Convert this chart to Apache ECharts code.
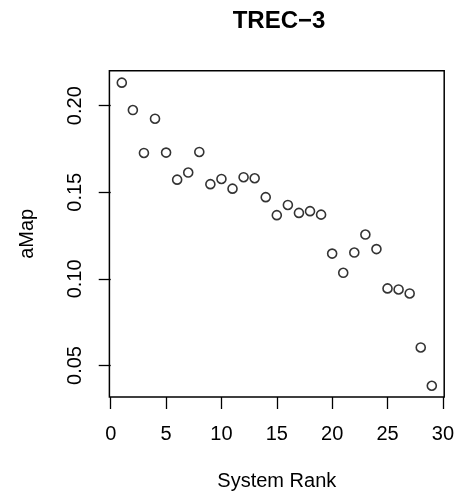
<!DOCTYPE html>
<html>
<head>
<meta charset="utf-8">
<title>TREC-3</title>
<script src="https://cdn.jsdelivr.net/npm/echarts@6/dist/echarts.min.js"></script>
<style>
  html, body { margin: 0; padding: 0; background: #fff; }
  #chart { width: 457px; height: 496px; }
</style>
</head>
<body>
<div id="chart"></div>
<script>
// system rank vs aMap
const ranks = [1, 2, 3, 4, 5, 6, 7, 8, 9, 10, 11, 12, 13, 14, 15, 16, 17, 18, 19, 20,
  21, 22, 23, 24, 25, 26, 27, 28, 29];
const amap = [0.2133, 0.1975, 0.1727, 0.1925, 0.1729, 0.1573, 0.1614, 0.1733, 0.1547, 0.1577,
  0.1521, 0.1587, 0.1581, 0.1472, 0.1368, 0.1427, 0.1381, 0.1391, 0.1371, 0.1146,
  0.1035, 0.1152, 0.1256, 0.1172, 0.0945, 0.0939, 0.0916, 0.0604, 0.0383];
const xTicks = [0, 5, 10, 15, 20, 25, 30];
const yTicks = [0.05, 0.10, 0.15, 0.20];

const font = "'Liberation Sans', Arial, Helvetica, sans-serif";
const points = ranks.map((r, i) => [r, amap[i]]);

const chart = echarts.init(document.getElementById('chart'));
chart.setOption({
  animation: false,
  backgroundColor: '#fff',
  graphic: [{
    type: 'text',
    x: 279,
    y: 9,
    style: {
      text: 'TREC\u22123',
      font: 'bold 24px ' + font,
      fill: '#000',
      textAlign: 'center',
      textVerticalAlign: 'top'
    }
  }],
  grid: {
    left: 109.4,
    right: 8.4,
    top: 70.7,
    bottom: 98.5,
    show: true,
    borderColor: '#000',
    borderWidth: 1.5,
    backgroundColor: 'transparent'
  },
  xAxis: {
    type: 'value',
    min: -0.12,
    max: 30.12,
    name: 'System Rank',
    nameLocation: 'middle',
    nameGap: 74,
    nameTextStyle: { fontFamily: font, fontSize: 20, color: '#000' },
    axisLine: { show: false },
    splitLine: { show: false },
    axisTick: {
      show: true, inside: false, length: 12,
      customValues: xTicks,
      lineStyle: { color: '#000', width: 1.3 }
    },
    axisLabel: {
      customValues: xTicks,
      margin: 27,
      fontFamily: font, fontSize: 20, color: '#000'
    }
  },
  yAxis: {
    type: 'value',
    min: 0.0318,
    max: 0.2202,
    name: 'aMap',
    nameLocation: 'middle',
    nameGap: 72,
    nameTextStyle: { fontFamily: font, fontSize: 20, color: '#000' },
    axisLine: { show: false },
    splitLine: { show: false },
    axisTick: {
      show: true, inside: false, length: 12,
      customValues: yTicks,
      lineStyle: { color: '#000', width: 1.3 }
    },
    axisLabel: {
      customValues: yTicks,
      rotate: 90,
      margin: 24,
      formatter: v => v.toFixed(2),
      fontFamily: font, fontSize: 20, color: '#000'
    }
  },
  series: [{
    type: 'scatter',
    data: points,
    symbol: 'circle',
    symbolSize: 9,
    itemStyle: {
      color: 'rgba(255,255,255,0)',
      borderColor: '#000',
      borderWidth: 1.6
    }
  }]
});
</script>
</body>
</html>
